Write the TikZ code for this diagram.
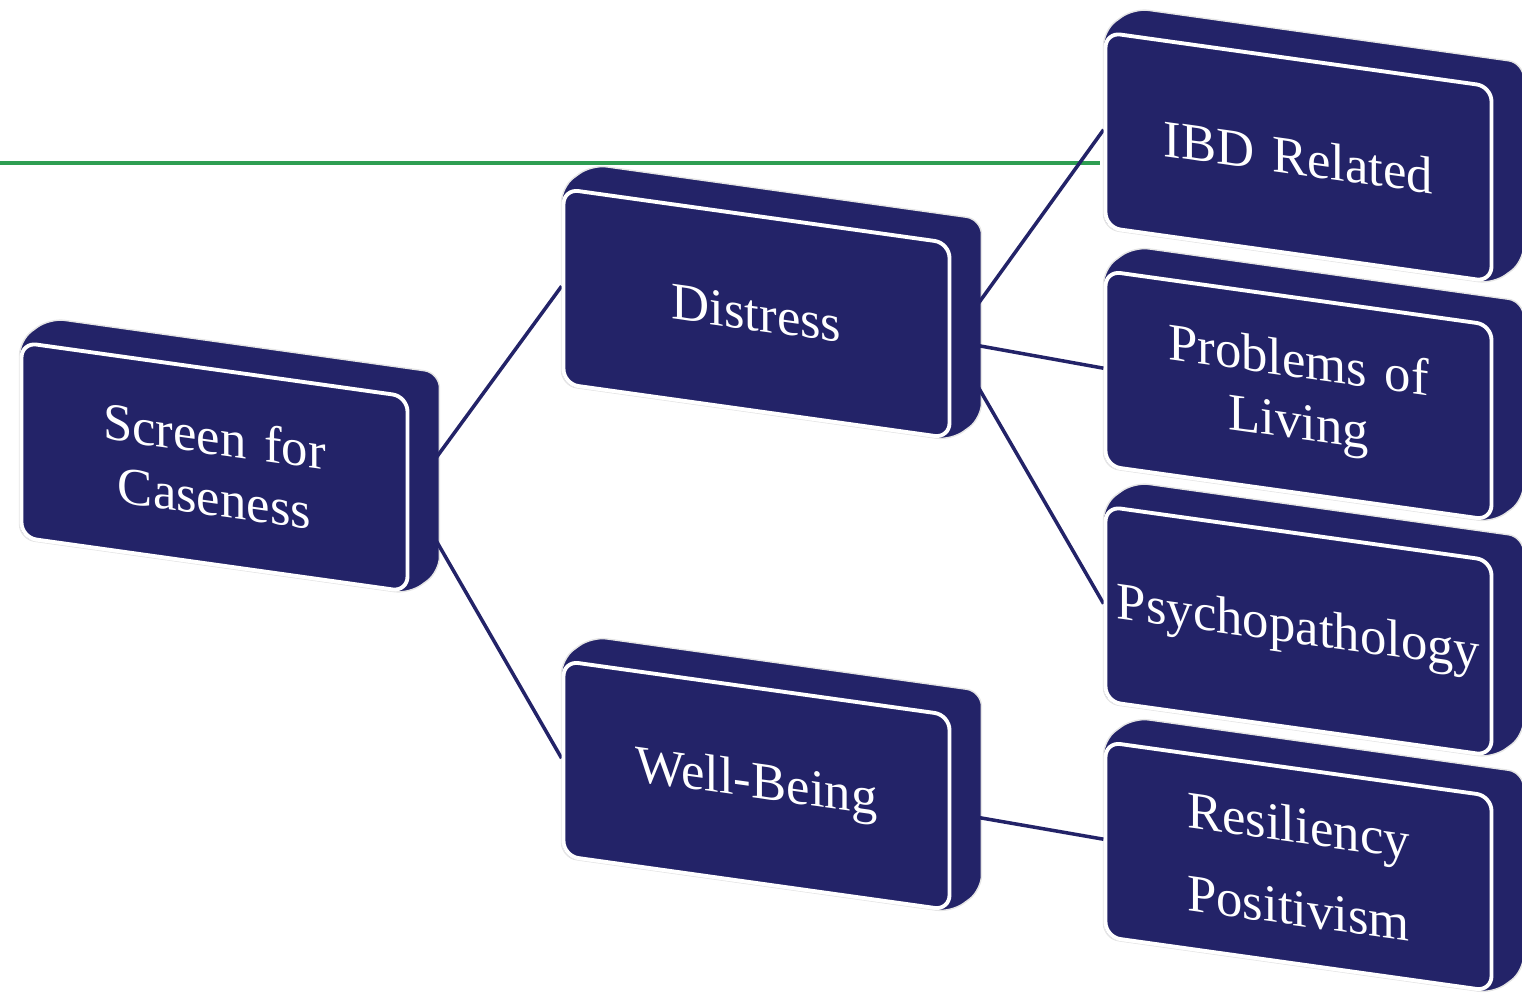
\documentclass[tikz,border=0pt]{standalone}
\usepackage{fontspec}
\setmainfont{Liberation Serif}
\usetikzlibrary{calc}
\definecolor{navy}{RGB}{35,35,104}
\definecolor{leafgreen}{RGB}{46,158,82}
\pgfdeclarelayer{back}
\pgfsetlayers{back,main}
\tikzstyle{block} = [rectangle, rounded corners=0.15cm, minimum width=3.86cm, minimum height=1.95cm, inner xsep=0pt, text centered, text width=3.8cm, fill=navy, draw=white, line width=1.1pt, text=white, font=\fontsize{15}{17.5}\selectfont, yslant=-0.14]
\tikzstyle{side} = [fill=navy, draw=gray!20, line width=0.4pt, rounded corners=0.15cm]
\tikzstyle{link} = [draw=navy, line width=1pt]
\newcommand{\sidefill}[1]{%
  \draw[side] (#1.south west) -- (#1.north west) -- ($(#1.north west)+(0.3,0.22)$)
    -- ($(#1.north east)+(0.3,0.22)$) -- ($(#1.south east)+(0.3,0.22)$) -- (#1.south east) -- cycle;}

\begin{document}
\begin{tikzpicture}
\useasboundingbox (0,0) rectangle (15.22,9.98);

  \node (screen) [block] at (2.145,5.31) {Screen for\\Caseness};
  \node (distress) [block] at (7.565,6.845) {Distress};
  \node (wellbeing) [block] at (7.565,2.125) {Well-Being};

  \node (ibd) [block] at (12.985,8.41) {IBD Related};
  \node (problems) [block] at (12.985,6.025) {Problems of\\Living};
  \node (psycho) [block] at (12.985,3.67) {Psychopathology};
  \node (resil) [block] at (12.985,1.315) {Resiliency\\[6pt]Positivism};

  \begin{pgfonlayer}{back}
  \draw[leafgreen, line width=1.2pt] (0,8.35) -- (11.0,8.35);
  \foreach \n in {screen,distress,wellbeing,ibd,problems,psycho,resil} {\sidefill{\n}}

  \draw[link] (screen.east) -- (distress.west);
  \draw[link] (screen.east) -- (wellbeing.west);
  \draw[link] (distress.east) -- (ibd.west);
  \draw[link] (distress.east) -- (problems.west);
  \draw[link] (distress.east) -- (psycho.west);
  \draw[link] (wellbeing.east) -- (resil.west);
  \end{pgfonlayer}
\end{tikzpicture}
\end{document}
